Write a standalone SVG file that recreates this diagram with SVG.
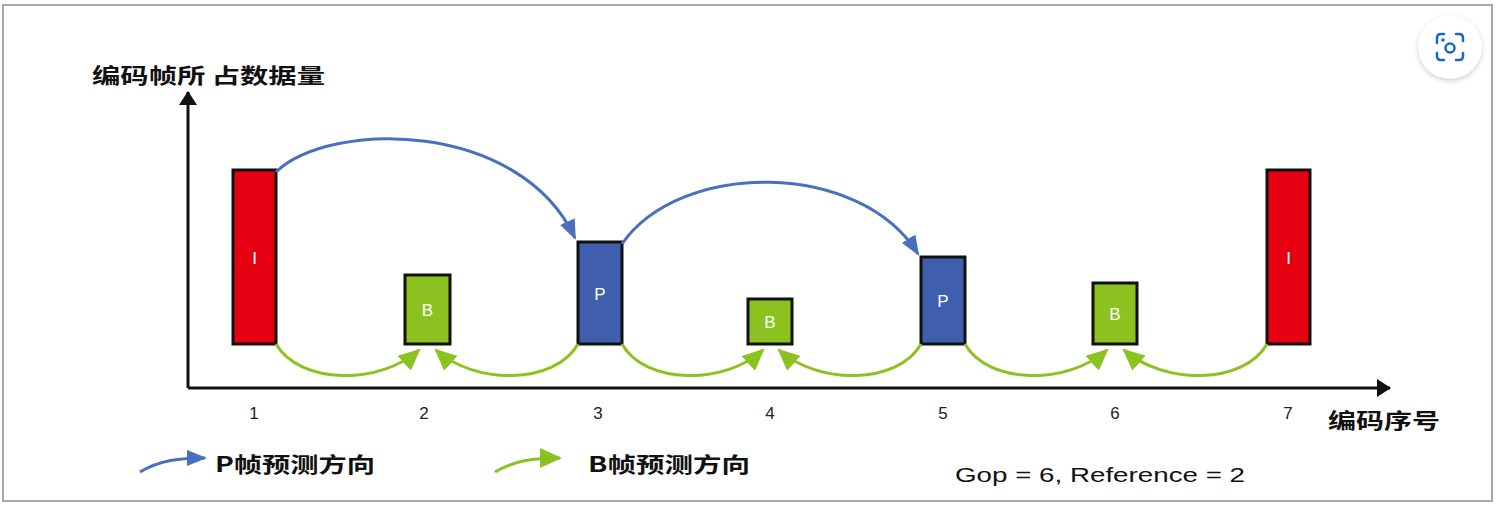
<svg xmlns="http://www.w3.org/2000/svg" width="1503" height="509" viewBox="0 0 1503 509">
<defs>
<marker id="ab" viewBox="0 0 20 16" refX="18" refY="8" markerWidth="20" markerHeight="16" markerUnits="userSpaceOnUse" orient="auto"><path d="M0,0 L20,8 L0,16 Z" fill="#4a6fc0"/></marker>
<marker id="ag" viewBox="0 0 22 20" refX="20" refY="10" markerWidth="22" markerHeight="20" markerUnits="userSpaceOnUse" orient="auto"><path d="M0,0 L22,10 L0,20 Z" fill="#8cc21f"/></marker>
<marker id="ak" viewBox="0 0 14 18" refX="13" refY="9" markerWidth="14" markerHeight="18" markerUnits="userSpaceOnUse" orient="auto"><path d="M0,0 L14,9 L0,18 Z" fill="#111"/></marker>
<filter id="sh" x="-30%" y="-30%" width="160%" height="160%"><feGaussianBlur stdDeviation="2.5"/></filter>
</defs>
<style>
.frame{fill:#fff;stroke:#a8a8a8;stroke-width:2}
.bar{stroke:#111;stroke-width:3}
.I{fill:#e60012}.P{fill:#3f5fae}.B{fill:#8cc21f}
.bl{font-family:"Liberation Sans","Noto Sans",sans-serif;font-size:17px;fill:#fff;text-anchor:middle}
.num{font-family:"Liberation Sans","Noto Sans",sans-serif;font-size:17px;fill:#222;text-anchor:middle}
.cn{font-family:"Noto Sans CJK SC","Noto Sans",sans-serif;font-size:21px;font-weight:bold;fill:#111}
.en{font-family:"Liberation Sans","Noto Sans",sans-serif;font-size:20px;fill:#111}
.pb{fill:none;stroke:#4a6fc0;stroke-width:3}
.pg{fill:none;stroke:#8cc21f;stroke-width:3}
.ax{fill:none;stroke:#111;stroke-width:3}
</style>
<rect class="frame" x="3" y="5" width="1489" height="496"/>
<g id="axes">
<path class="ax" d="M188,388 L188,92" marker-end="url(#ak)"/>
<path class="ax" d="M188,388 L1390,388" marker-end="url(#ak)"/>
<text class="cn" x="92" y="83" textLength="233" lengthAdjust="spacingAndGlyphs">编码帧所 占数据量</text>
<text class="cn" x="1328" y="428" textLength="112" lengthAdjust="spacingAndGlyphs">编码序号</text>
</g>
<g id="ticks">
<text class="num" x="254" y="419">1</text>
<text class="num" x="424" y="419">2</text>
<text class="num" x="598" y="419">3</text>
<text class="num" x="770" y="419">4</text>
<text class="num" x="943" y="419">5</text>
<text class="num" x="1115" y="419">6</text>
<text class="num" x="1288" y="419">7</text>
</g>
<g id="frame1"><rect class="bar I" x="233" y="170" width="43" height="174"/><text class="bl" x="254.5" y="264">I</text></g>
<g id="frame2"><rect class="bar B" x="405" y="275" width="45" height="69"/><text class="bl" x="427.5" y="316">B</text></g>
<g id="frame3"><rect class="bar P" x="578" y="242" width="44" height="102"/><text class="bl" x="600" y="300">P</text></g>
<g id="frame4"><rect class="bar B" x="748" y="299" width="44" height="45"/><text class="bl" x="770" y="328">B</text></g>
<g id="frame5"><rect class="bar P" x="921" y="257" width="44" height="87"/><text class="bl" x="943" y="307">P</text></g>
<g id="frame6"><rect class="bar B" x="1093" y="283" width="44" height="61"/><text class="bl" x="1115" y="320">B</text></g>
<g id="frame7"><rect class="bar I" x="1267" y="170" width="43" height="174"/><text class="bl" x="1288.5" y="264">I</text></g>
<g id="connectors">
<path class="pb" d="M276,172 C330,120 520,120 575,238" marker-end="url(#ab)"/>
<path class="pb" d="M622,244 C680,160 860,160 918,254" marker-end="url(#ab)"/>
<path class="pg" d="M276,344 C300,385 380,385 419,350" marker-end="url(#ag)"/>
<path class="pg" d="M578,344 C555,385 475,385 436,350" marker-end="url(#ag)"/>
<path class="pg" d="M622,344 C645,385 725,385 763,350" marker-end="url(#ag)"/>
<path class="pg" d="M921,344 C898,385 818,385 779,350" marker-end="url(#ag)"/>
<path class="pg" d="M965,344 C988,385 1068,385 1107,350" marker-end="url(#ag)"/>
<path class="pg" d="M1267,344 C1244,385 1164,385 1124,350" marker-end="url(#ag)"/>
</g>
<g id="legend">
<path class="pb" d="M140,472 C160,460 180,458 205,458" marker-end="url(#ab)"/>
<text class="cn" x="215" y="472" textLength="160" lengthAdjust="spacingAndGlyphs">P帧预测方向</text>
<path class="pg" d="M495,472 C515,460 535,458 560,458" marker-end="url(#ag)"/>
<text class="cn" x="588" y="472" textLength="162" lengthAdjust="spacingAndGlyphs">B帧预测方向</text>
<text class="en" x="955" y="482" textLength="290" lengthAdjust="spacingAndGlyphs">Gop = 6, Reference = 2</text>
</g>
<g id="lens-button">
<circle cx="1450" cy="49" r="32" fill="#000" opacity="0.18" filter="url(#sh)"/>
<circle cx="1450" cy="47" r="32" fill="#fff"/>
<g fill="none" stroke="#1a66c9" stroke-width="2.5" stroke-linecap="round">
<path d="M1437,43 V38 Q1437,34 1441,34 H1444"/>
<path d="M1456,34 H1459 Q1463,34 1463,38 V41"/>
<path d="M1463,53 V56 Q1463,60 1459,60 H1456"/>
<path d="M1444,60 H1441 Q1437,60 1437,56 V53"/>
<circle cx="1450" cy="48" r="4.5"/>
</g>
<circle cx="1443" cy="40" r="1.8" fill="#1a66c9"/>
</g>
</svg>
